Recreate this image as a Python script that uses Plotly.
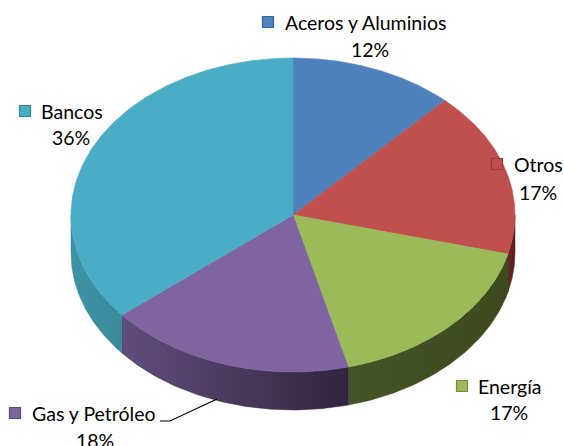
import numpy as np
import plotly.graph_objects as go

# ---- data ----
categories = ["Aceros y Aluminios", "Otros", "Energía", "Gas y Petróleo", "Bancos"]
values = [12, 17, 17, 18, 36]
pct_labels = ["12%", "17%", "17%", "18%", "36%"]

# ---- style ----
top_colors = ["#4F81BD", "#C0504D", "#9BBB59", "#8064A2", "#4BACC6"]
side_colors = [("#2f4f7a", "#263f63"), ("#6a2526", "#561d1e"), ("#455426", "#3c4a1e"),
               ("#604d7c", "#32253e"), ("#3d94a6", "#39899b")]
key_border = ["#3a6396", "#943c3a", "#76923c", "#604a7b", "#31859c"]

W, H = 564, 446
cx, cy, rx, ry, depth = 293, 215, 222, 157, 38

def ell(theta_deg, dy=0.0):
    t = np.radians(theta_deg)
    return cx + rx * np.sin(t), cy - ry * np.cos(t) + dy

fig = go.Figure()
total = sum(values)
bounds = np.concatenate([[0], np.cumsum(values)]) / total * 360.0

# side faces (front half: 90..270 degrees clockwise from top)
for i in range(len(values)):
    a, b = max(bounds[i], 90.0), min(bounds[i + 1], 270.0)
    if b <= a:
        continue
    th = np.linspace(a, b, 80)
    xt, yt = ell(th)
    xb, yb = ell(th[::-1], depth)
    xs = np.concatenate([xt, xb, [xt[0]]])
    ys = np.concatenate([yt, yb, [yt[0]]])
    fig.add_trace(go.Scatter(
        x=xs, y=ys, mode="lines", fill="toself",
        line=dict(color=side_colors[i][1], width=0.5),
        fillgradient=dict(type="horizontal",
                          colorscale=[[0, side_colors[i][0]], [1, side_colors[i][1]]]),
        hoverinfo="skip", showlegend=False))

# top faces
for i in range(len(values)):
    th = np.linspace(bounds[i], bounds[i + 1], 150)
    xa, ya = ell(th)
    xs = np.concatenate([[cx], xa, [cx]])
    ys = np.concatenate([[cy], ya, [cy]])
    fig.add_trace(go.Scatter(
        x=xs, y=ys, mode="lines", fill="toself", fillcolor=top_colors[i],
        line=dict(color=top_colors[i], width=0.6),
        hoverinfo="skip", showlegend=False))

# labels: (key x, key y, text left x, pct centre x, pct y)
label_pos = [
    (268, 22, 283, 370, 49),
    (497, 164, 512, 538, 192),
    (462, 386, 476, 509, 412),
    (15, 413, 30, 95, 440),
    (25, 111, 39, 71, 137),
]
font = dict(family="Lato, 'Liberation Sans', sans-serif", size=19.5, color="#000000")
for i, (kx, ky, tx, px, py) in enumerate(label_pos):
    fig.add_trace(go.Scatter(
        x=[kx], y=[ky], mode="markers",
        marker=dict(symbol="square", size=11, color=top_colors[i],
                    line=dict(color=key_border[i], width=1.2)),
        hoverinfo="skip", showlegend=False))
    fig.add_annotation(x=tx, y=ky, text=categories[i], showarrow=False,
                       xanchor="left", yanchor="middle", font=font)
    fig.add_annotation(x=px, y=py, text=pct_labels[i], showarrow=False,
                       xanchor="center", yanchor="middle", font=font)

# leader line for Gas y Petróleo
fig.add_trace(go.Scatter(x=[160, 170, 217], y=[421, 421, 399], mode="lines",
                         line=dict(color="#000000", width=1.2),
                         hoverinfo="skip", showlegend=False))

fig.update_xaxes(range=[0, W], visible=False, fixedrange=True)
fig.update_yaxes(range=[H, 0], visible=False, fixedrange=True)
fig.update_layout(width=W, height=H, margin=dict(l=0, r=0, t=0, b=0),
                  paper_bgcolor="white", plot_bgcolor="white", showlegend=False)

fig.write_html("out.html", config={"displayModeBar": False},
               post_script="document.body.style.margin='0';document.body.style.overflow='hidden';")
